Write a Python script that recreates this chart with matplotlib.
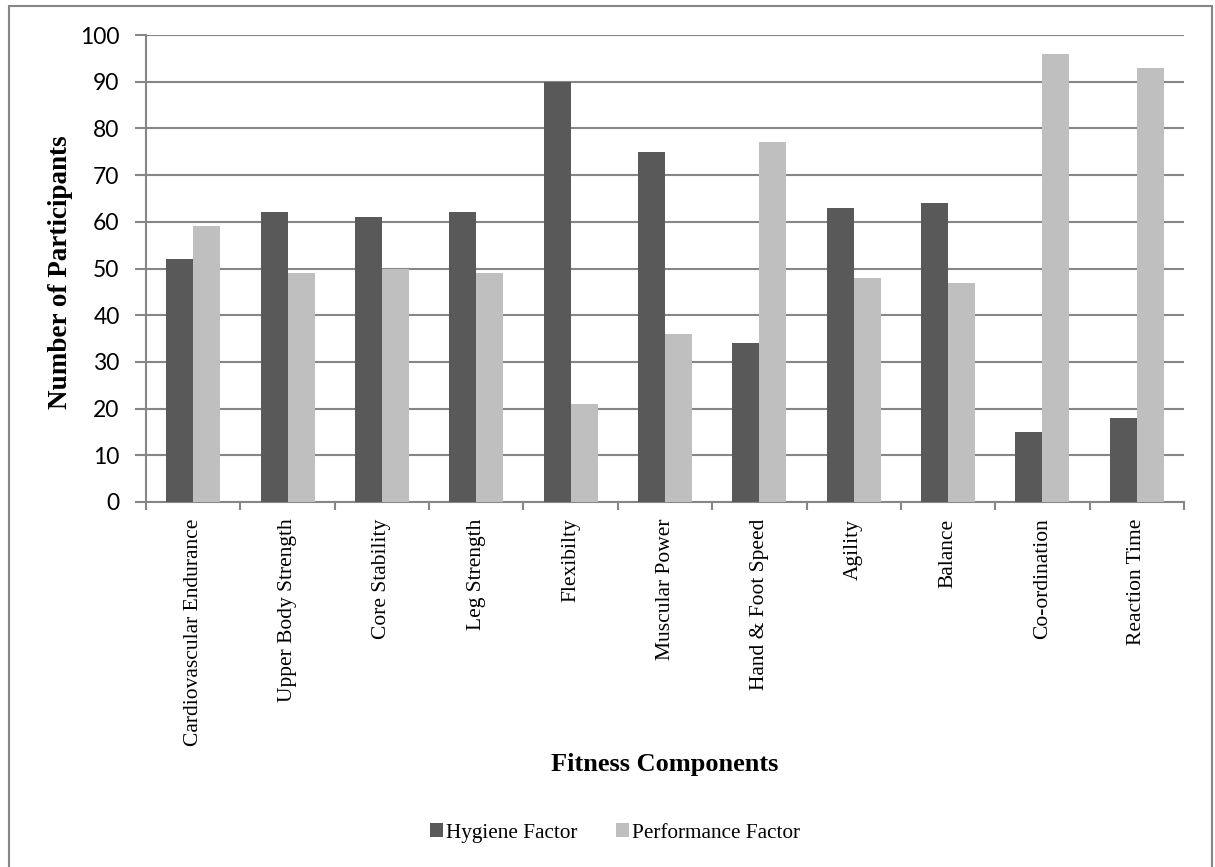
import numpy as np
import matplotlib.pyplot as plt
from matplotlib.patches import Rectangle

categories = ["Cardiovascular Endurance", "Upper Body Strength", "Core Stability",
              "Leg Strength", "Flexibilty", "Muscular Power", "Hand & Foot Speed",
              "Agility", "Balance", "Co-ordination", "Reaction Time"]
hygiene     = [52, 62, 61, 62, 90, 75, 34, 63, 64, 15, 18]
performance = [59, 49, 50, 49, 21, 36, 77, 48, 47, 96, 93]

W, H = 1215, 867
fig = plt.figure(figsize=(W / 100, H / 100), dpi=100)
ax = fig.add_axes([146 / W, 1 - 502 / H, (1184 - 146) / W, (502 - 35) / H])

x = np.arange(len(categories))
bw = 0.286
ax.bar(x - bw / 2, hygiene, bw, color="#595959", label="Hygiene Factor", zorder=3)
ax.bar(x + bw / 2, performance, bw, color="#BFBFBF", label="Performance Factor", zorder=3)

ax.set_xlim(-0.5, len(categories) - 0.5)
ax.set_ylim(0, 100)
ax.set_yticks(range(0, 101, 10))
ax.yaxis.grid(True, color="#868686", linewidth=1.5, zorder=0)
ax.set_axisbelow(True)

# category labels sit between the boundary ticks
ax.set_xticks(np.arange(-0.5, len(categories), 1.0))
ax.set_xticklabels([])
ax.set_xticks(x, minor=True)
ax.set_xticklabels(categories, minor=True, rotation=90, family="Liberation Serif",
                   fontsize=15.5, va="top")
ax.tick_params(axis="x", which="major", length=6, color="#868686", width=1.5)
ax.tick_params(axis="x", which="minor", length=0, pad=12)
ax.tick_params(axis="y", length=8, color="#868686", width=1.5, labelsize=16.5, pad=11)
for lab in ax.get_yticklabels():
    lab.set_family("Lato")

for side in ["top", "right"]:
    ax.spines[side].set_visible(False)
for side in ["left", "bottom"]:
    ax.spines[side].set_color("#868686")
    ax.spines[side].set_linewidth(1.5)

fig.text(61 / W, 1 - 272 / H, "Number of Participants", rotation=90, ha="center",
         va="center", family="Liberation Serif", fontweight="bold", fontsize=19.5)
fig.text(665 / W, 1 - 765 / H, "Fitness Components", ha="center", va="center",
         family="Liberation Serif", fontweight="bold", fontsize=19)

fig.legend(loc="center", bbox_to_anchor=(615 / W, 1 - 833 / H), ncol=2, frameon=False,
           prop={"family": "Liberation Serif", "size": 15.3}, handlelength=0.6,
           handleheight=0.6, handletextpad=0.15, columnspacing=1.8)

# outer chart border (bottom edge falls outside the image, as in the reference)
fig.patches.append(Rectangle((9 / W, -5 / H), (1212 - 9) / W, (861 + 5) / H,
                             transform=fig.transFigure, fill=False,
                             edgecolor="#868686", linewidth=1.5))

fig.savefig("out.png", dpi=100)
